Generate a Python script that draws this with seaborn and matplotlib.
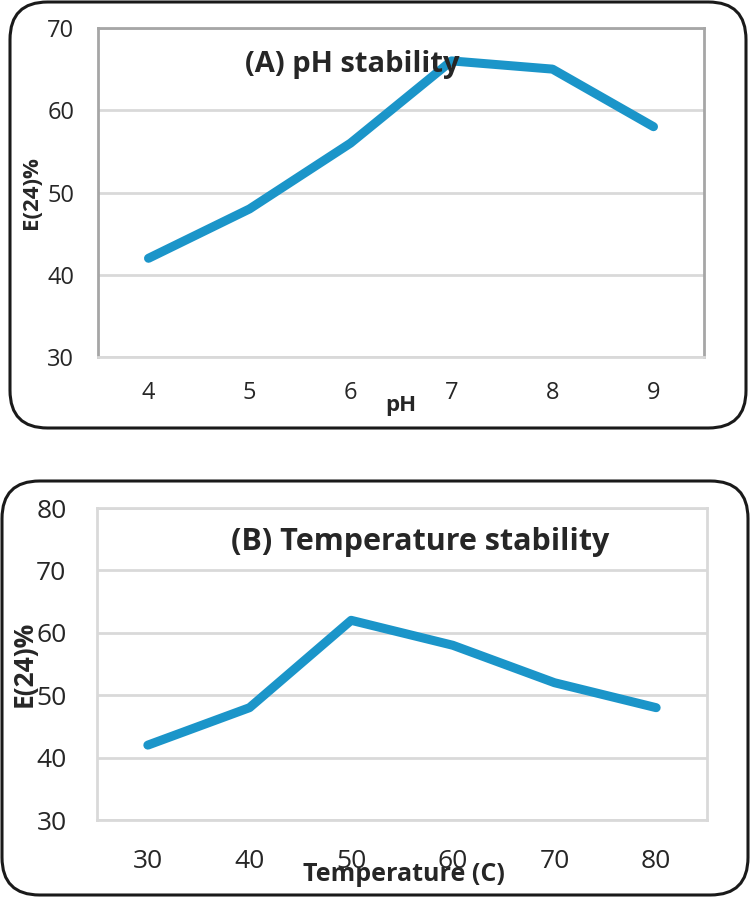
import numpy as np
import pandas as pd
import matplotlib
matplotlib.use("Agg")
import matplotlib.pyplot as plt
import seaborn as sns
from matplotlib.patches import FancyBboxPatch

# ---- data ----
ph_values = [4, 5, 6, 7, 8, 9]
ph_e24 = [42, 48, 56, 66, 65, 58]

temp_values = [30, 40, 50, 60, 70, 80]
temp_e24 = [42, 48, 62, 58, 52, 48]

line_color = "#1b95c9"
grid_color = "#d9d9d9"
spine_color = "#a6a6a6"
text_color = "#262626"

sns.set_style("white")
plt.rcParams["font.family"] = ["Open Sans", "DejaVu Sans"]

fig = plt.figure(figsize=(7.52, 8.98), dpi=100)

# rounded frames around each panel (figure pixels -> fractions)
W, H = 752.0, 898.0
for (x0, y0, x1, y1) in [(10, 2, 746, 428), (2, 481, 748, 895)]:
    box = FancyBboxPatch((x0 / W, 1 - y1 / H), (x1 - x0) / W, (y1 - y0) / H,
                         boxstyle="round,pad=0,rounding_size=0.05",
                         transform=fig.transFigure, fill=False,
                         edgecolor="#1a1a1a", linewidth=2.2, mutation_aspect=W / H)
    fig.patches.append(box)

# ---- panel A: pH stability ----
ax1 = fig.add_axes([98 / W, 1 - 357 / H, 606 / W, 329 / H])
df_ph = pd.DataFrame({"pH": ph_values, "E24": ph_e24})
sns.lineplot(data=df_ph, x="pH", y="E24", ax=ax1, color=line_color, linewidth=6.5,
             solid_capstyle="round", solid_joinstyle="round")
ax1.set_xlim(3.5, 9.5)
ax1.set_ylim(30, 70)
ax1.set_xticks(ph_values)
ax1.set_yticks([30, 40, 50, 60, 70])
ax1.yaxis.grid(True, color=grid_color, linewidth=2)
ax1.set_axisbelow(True)
for name, s in ax1.spines.items():
    s.set_color(grid_color if name == "bottom" else spine_color)
    s.set_linewidth(2)
ax1.tick_params(axis="x", length=0, pad=17, labelsize=17, labelcolor=text_color)
ax1.tick_params(axis="y", length=0, pad=17, labelsize=17, labelcolor=text_color)
ax1.set_xlabel("pH", fontsize=16, fontweight="bold", color=text_color)
ax1.set_ylabel("E(24)%", fontsize=16, fontweight="bold", color=text_color)
ax1.xaxis.set_label_coords(0.50, -0.115)
ax1.yaxis.set_label_coords(-0.092, 0.5)
ax1.text(0.42, 0.89, "(A) pH stability", transform=ax1.transAxes, ha="center",
         va="center", fontsize=21, fontweight="bold", color=text_color)

# ---- panel B: temperature stability ----
ax2 = fig.add_axes([97 / W, 1 - 820 / H, 610 / W, 312 / H])
df_t = pd.DataFrame({"Temp": temp_values, "E24": temp_e24})
sns.lineplot(data=df_t, x="Temp", y="E24", ax=ax2, color=line_color, linewidth=6.5,
             solid_capstyle="round", solid_joinstyle="round")
ax2.set_xlim(25, 85)
ax2.set_ylim(30, 80)
ax2.set_xticks(temp_values)
ax2.set_yticks([30, 40, 50, 60, 70, 80])
ax2.yaxis.grid(True, color=grid_color, linewidth=2)
ax2.set_axisbelow(True)
for s in ax2.spines.values():
    s.set_color(grid_color)
    s.set_linewidth(2)
ax2.tick_params(axis="x", length=0, pad=21, labelsize=19, labelcolor=text_color)
ax2.tick_params(axis="y", length=0, pad=22, labelsize=19, labelcolor=text_color)
ax2.set_xlabel("Temperature (C)", fontsize=18, fontweight="bold", color=text_color)
ax2.set_ylabel("E(24)%", fontsize=19, fontweight="bold", color=text_color)
ax2.xaxis.set_label_coords(0.503, -0.135)
ax2.yaxis.set_label_coords(-0.098, 0.5)
ax2.text(0.53, 0.89, "(B) Temperature stability", transform=ax2.transAxes, ha="center",
         va="center", fontsize=22, fontweight="bold", color=text_color)

fig.savefig("out.png", dpi=100)
